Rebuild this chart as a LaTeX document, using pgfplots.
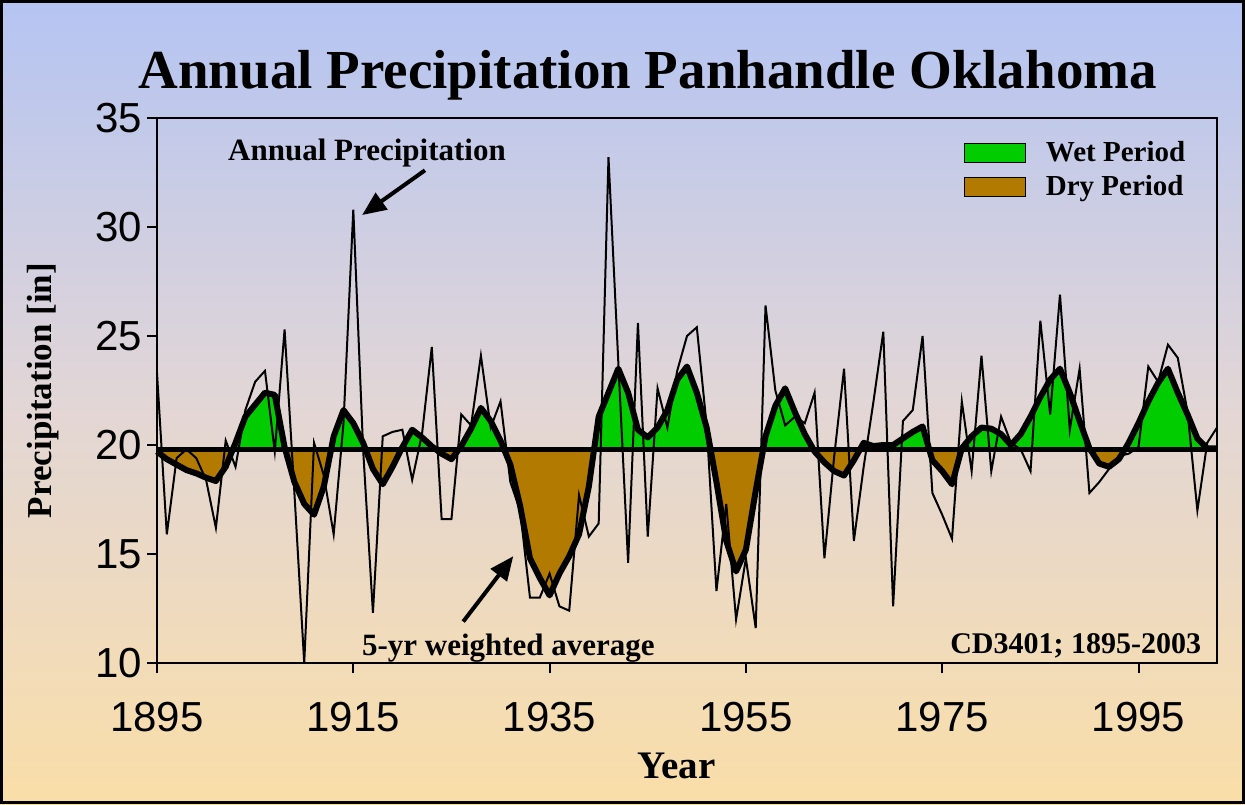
\documentclass[border=0pt]{standalone}
\usepackage{fontspec}
\setmainfont{Liberation Serif}
\newfontfamily\arialfont{Liberation Sans}
\usepackage{pgfplots}
\pgfplotsset{compat=1.18}
\usepackage{pgfplotstable}
\usepgfplotslibrary{fillbetween}
\usetikzlibrary{arrows.meta}

\definecolor{wetgreen}{RGB}{0,204,0}
\definecolor{drybrown}{RGB}{179,122,0}
\definecolor{bgtop}{RGB}{180,196,242}
\definecolor{bgmid}{RGB}{226,214,214}
\definecolor{bgbot}{RGB}{250,222,168}

% annual total and 5-yr weighted average, inches
\pgfplotstableread{
year annual avg
1895 23.3 19.7
1896 15.9 19.35
1897 19.4 19.1
1898 19.8 18.85
1899 19.4 18.7
1900 18.4 18.5
1901 16.2 18.35
1902 20.2 19.0
1903 19.0 20.1
1904 21.6 21.3
1905 22.9 21.85
1906 23.4 22.4
1907 19.7 22.3
1908 25.3 19.9
1909 17.8 18.3
1910 10.0 17.3
1911 20.1 16.8
1912 18.6 18.1
1913 15.9 20.4
1914 21.0 21.6
1915 30.8 21.0
1916 19.8 20.1
1917 12.3 18.9
1918 20.4 18.2
1919 20.6 19.0
1920 20.7 19.9
1921 18.4 20.7
1922 20.5 20.35
1923 24.5 19.94
1924 16.6 19.6
1925 16.6 19.35
1926 21.4 19.95
1927 20.9 20.75
1928 24.1 21.7
1929 20.8 21.1
1930 22.0 20.2
1931 18.3 19.1
1932 17.0 17.2
1933 13.0 14.8
1934 13.0 13.9
1935 14.1 13.1
1936 12.6 14.1
1937 12.4 14.9
1938 17.7 15.9
1939 15.8 18.1
1940 16.4 21.3
1941 33.2 22.4
1942 23.8 23.5
1943 14.6 22.4
1944 25.6 20.7
1945 15.8 20.35
1946 22.6 20.8
1947 20.8 21.6
1948 23.4 23.0
1949 25.0 23.6
1950 25.4 22.4
1951 20.9 20.8
1952 13.3 18.3
1953 17.3 15.6
1954 12.0 14.2
1955 14.8 15.2
1956 11.6 17.9
1957 26.4 20.4
1958 22.5 21.8
1959 20.9 22.6
1960 21.3 21.5
1961 21.0 20.5
1962 22.4 19.7
1963 14.8 19.2
1964 19.5 18.8
1965 23.5 18.6
1966 15.6 19.3
1967 19.0 20.1
1968 22.0 19.95
1969 25.2 20.0
1970 12.6 20.0
1971 21.1 20.3
1972 21.6 20.6
1973 25.0 20.85
1974 17.8 19.3
1975 16.8 18.8
1976 15.7 18.2
1977 22.0 19.85
1978 18.8 20.4
1979 24.1 20.8
1980 18.8 20.75
1981 21.3 20.5
1982 20.1 20.0
1983 19.8 20.5
1984 18.8 21.3
1985 25.7 22.2
1986 21.4 23.0
1987 26.9 23.5
1988 20.7 22.4
1989 23.5 21.1
1990 17.8 19.85
1991 18.3 19.15
1992 18.9 19.0
1993 19.5 19.35
1994 19.6 20.1
1995 19.9 21.0
1996 23.6 22.0
1997 22.9 22.85
1998 24.6 23.5
1999 24.0 22.4
2000 21.5 21.4
2001 17.0 20.3
2002 20.1 19.85
2003 20.8 19.85
}\precip

\begin{document}
\begin{tikzpicture}
\begin{axis}[
  set layers,
  clip=false,
  scale only axis,
  width=530pt, height=272.5pt,
  at={(78.5pt,70.5pt)}, anchor=south west,
  xmin=1895, xmax=2003, ymin=10, ymax=35,
  xtick={1895,1915,...,1995}, ytick={10,15,...,35},
  tick align=outside, xtick pos=lower, ytick pos=left,
  major tick length=5pt,
  tick style={black, line width=1pt},
  axis line style={line width=1pt},
  every tick label/.append style={font=\arialfont\fontsize{21}{21}\selectfont},
  /pgf/number format/assume math mode=true,
  /pgf/number format/1000 sep={},
  xticklabel style={yshift=-11pt},
  yticklabel style={xshift=1pt},
  title={\bfseries Annual Precipitation Panhandle Oklahoma},
  title style={font=\fontsize{27.5}{27.5}\selectfont, at={(axis description cs:0.463,1.057)}, anchor=center},
  ylabel={\bfseries Precipitation [in]},
  ylabel style={font=\fontsize{17.5}{17.5}\selectfont, at={(axis description cs:-0.1075,0.5)}, anchor=center},
  xlabel={\bfseries Year},
  xlabel style={font=\fontsize{19.5}{19.5}\selectfont, at={(axis description cs:0.49,-0.189)}, anchor=center},
  legend style={at={(axis description cs:0.755,0.969)}, anchor=north west,
    draw=none, fill=none, font=\bfseries\fontsize{14.5}{14.5}\selectfont,
    row sep=3.5pt, nodes={inner sep=1pt},
    /tikz/every odd column/.append style={column sep=9pt}},
  legend cell align=left,
  legend image code/.code={\draw[#1, line width=0.6pt] (0pt,-4.75pt) rectangle (30.5pt,4.75pt);},
]
  \begin{pgfonlayer}{axis background}
    \shade[top color=bgtop, bottom color=bgbot, middle color=bgmid]
      (rel axis cs:-0.14811,-0.25872) rectangle (rel axis cs:1.02642,1.21651);
  \end{pgfonlayer}

  \addlegendimage{fill=wetgreen, draw=black}
  \addlegendentry{Wet Period}
  \addlegendimage{fill=drybrown, draw=black}
  \addlegendentry{Dry Period}

  \addplot[name path=avg, draw=none, forget plot] table[x=year, y=avg] {\precip};
  \addplot[name path=mean, draw=none, forget plot] coordinates {(1895,19.8) (2003,19.8)};
  \addplot[draw=none, fill=wetgreen, forget plot] fill between[of=avg and mean, split,
    every even segment/.style={fill=drybrown},
    every odd segment/.style={fill=wetgreen}];

  \addplot[black, line width=1pt, forget plot] table[x=year, y=annual] {\precip};
  \addplot[black, line width=2.5pt, forget plot] coordinates {(1895,19.8) (2003,19.8)};
  \addplot[black, line width=3pt, line join=round, forget plot] table[x=year, y=avg] {\precip};

  \node[font=\bfseries\fontsize{15.5}{15.5}\selectfont] at (axis cs:1916.4,33.4) {Annual Precipitation};
  \draw[-{Triangle[length=12pt, width=10pt]}, line width=2pt] (axis cs:1922.3,32.6) -- (axis cs:1915.9,30.55);
  \node[font=\bfseries\fontsize{15.5}{15.5}\selectfont] at (axis cs:1930.8,10.7) {5-yr weighted average};
  \draw[-{Triangle[length=12pt, width=10pt]}, line width=2pt] (axis cs:1926.2,11.9) -- (axis cs:1931.3,14.9);
  \node[font=\bfseries\fontsize{15}{15}\selectfont, anchor=east] at (axis cs:2002.1,10.8) {CD3401; 1895-2003};
\end{axis}
\draw[line width=1.5pt] (0.75pt,0.75pt) rectangle (621.75pt,401.25pt);
\pgfresetboundingbox
\useasboundingbox (0,0) rectangle (622.5pt,402pt);
\end{tikzpicture}
\end{document}
